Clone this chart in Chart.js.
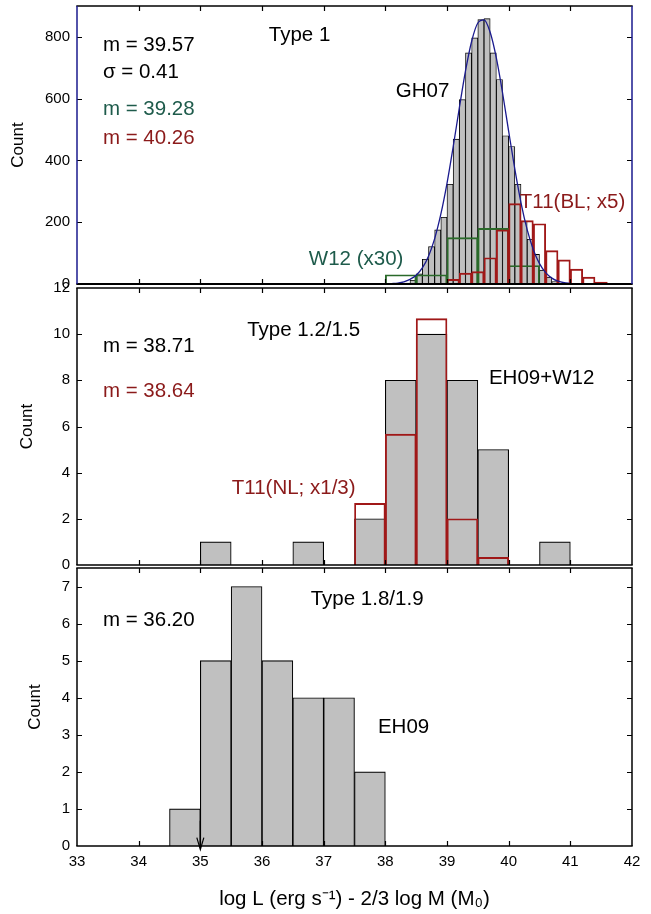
<!DOCTYPE html>
<html><head><meta charset="utf-8">
<script src="https://cdn.jsdelivr.net/npm/chart.js@4/dist/chart.umd.min.js"></script>
<style>
html,body{margin:0;padding:0;background:#fff;}
#wrap{position:relative;width:651px;height:914px;overflow:hidden;}
#wrap canvas{position:absolute;left:0;top:0;}
</style></head><body>
<div id="wrap">
<canvas id="c1" width="651" height="914"></canvas>
<canvas id="c2" width="651" height="914"></canvas>
<canvas id="c3" width="651" height="914"></canvas>
</div>
<script>
// ---------------- DATA ----------------
const xTickValues = [33, 34, 35, 36, 37, 38, 39, 40, 41, 42];

// Panel 1 : Type 1
const gh07BinStart = [38.3, 38.4, 38.5, 38.6, 38.7, 38.8, 38.9, 39.0, 39.1, 39.2, 39.3, 39.4, 39.5,
                      39.6, 39.7, 39.8, 39.9, 40.0, 40.1, 40.2, 40.3, 40.4, 40.5, 40.6, 40.7];
const gh07Counts   = [3, 12, 33, 80, 121, 175, 216, 323, 469, 597, 748, 797, 856,
                      859, 748, 662, 480, 445, 323, 203, 145, 96, 45, 22, 8];
const gh07BinWidth = 0.1;
const w12BinStart  = [38.0, 38.5, 39.0, 39.5, 40.0];
const w12Counts    = [30, 30, 150, 180, 60];
const w12BinWidth  = 0.5;
const t11blBinStart = [39.0, 39.2, 39.4, 39.6, 39.8, 40.0, 40.2, 40.4, 40.6, 40.8, 41.0, 41.2, 41.4];
const t11blCounts   = [15, 35, 40, 85, 175, 260, 205, 195, 108, 78, 48, 22, 6];
const t11blBinWidth = 0.2;
const fitX = [38.1, 38.2, 38.3, 38.4, 38.5, 38.6, 38.7, 38.8, 38.9, 39.0, 39.1, 39.2, 39.3, 39.4, 39.5,
              39.6, 39.7, 39.8, 39.9, 40.0, 40.1, 40.2, 40.3, 40.4, 40.5, 40.6, 40.7, 40.8, 40.9, 41.0];
const fitY = [1, 3, 7, 15, 28, 52, 90, 147, 226, 326, 444, 570, 690, 786, 845,
              855, 815, 732, 620, 494, 372, 263, 176, 111, 66, 37, 19, 9, 4, 2];
const p1YTicks = [0, 200, 400, 600, 800];

// Panel 2 : Type 1.2/1.5
const eh09w12BinStart = [35.0, 36.5, 37.5, 38.0, 38.5, 39.0, 39.5, 40.5];
const eh09w12Counts   = [1, 1, 2, 8, 10, 8, 5, 1];
const t11nlBinStart   = [37.5, 38.0, 38.5, 39.0, 39.5];
const t11nlCounts     = [2.67, 5.67, 10.67, 2, 0.33];
const p2BinWidth = 0.5;
const p2YTicks = [0, 2, 4, 6, 8, 10, 12];

// Panel 3 : Type 1.8/1.9
const eh09BinStart = [34.5, 35.0, 35.5, 36.0, 36.5, 37.0, 37.5];
const eh09Counts   = [1, 5, 7, 5, 4, 4, 2];
const p3BinWidth = 0.5;
const p3YTicks = [0, 1, 2, 3, 4, 5, 6, 7];
const arrowX = 35.0, arrowFrom = 0.68, arrowTo = -0.1;

// ---------------- STYLE ----------------
const FONT = '"Liberation Sans", Arial, Helvetica, sans-serif';
const RED_TXT = '#8b1a1a', RED_LN = '#a01818';
const GRN_TXT = '#1e5b4b', GRN_LN = '#2a6a2a';
const BLUE = '#1a1a8e';
const GRAY = '#c0c0c0';
const TICK = 5;

Chart.defaults.font.family = FONT;
Chart.defaults.color = '#000';
Chart.defaults.animation = false;

function bins(starts, counts, width) {
  return starts.map((s, i) => ({x: s + width / 2, y: counts[i]}));
}

const decorPlugin = {
  id: 'decor',
  afterDatasetsDraw(chart, args, o) {
    const {ctx, chartArea: a} = chart;
    const xs = chart.scales.x, ys = chart.scales.y;
    ctx.save();
    ctx.lineWidth = 1.2;
    ctx.strokeStyle = '#000';
    ctx.beginPath();
    xTickValues.forEach(v => {
      if (v <= xs.min || v >= xs.max) return;
      const px = Math.round(xs.getPixelForValue(v)) + 0.5;
      ctx.moveTo(px, a.top); ctx.lineTo(px, a.top + TICK);
      ctx.moveTo(px, a.bottom); ctx.lineTo(px, a.bottom - TICK);
    });
    o.yTicks.forEach(v => {
      if (v <= ys.min || v >= ys.max) return;
      const py = Math.round(ys.getPixelForValue(v)) + 0.5;
      ctx.moveTo(a.left, py); ctx.lineTo(a.left + TICK, py);
      ctx.moveTo(a.right, py); ctx.lineTo(a.right - TICK, py);
    });
    ctx.stroke();
    const line = (x1, y1, x2, y2, c, w) => {
      ctx.beginPath(); ctx.strokeStyle = c; ctx.lineWidth = w;
      ctx.moveTo(x1, y1); ctx.lineTo(x2, y2); ctx.stroke();
    };
    line(a.left - 0.7, a.top, a.right + 0.7, a.top, o.topColor, 1.5);
    line(a.left - 0.7, a.bottom, a.right + 0.7, a.bottom, '#000', o.bottomWidth);
    line(a.left, a.top, a.left, a.bottom, o.sideColor, 1.5);
    line(a.right, a.top, a.right, a.bottom, o.sideColor, 1.5);
    if (o.arrow) {
      const px = xs.getPixelForValue(o.arrow.x);
      const y1 = ys.getPixelForValue(o.arrow.from), y2 = ys.getPixelForValue(o.arrow.to);
      ctx.beginPath(); ctx.strokeStyle = '#000'; ctx.lineWidth = 1.2;
      ctx.moveTo(px, y1); ctx.lineTo(px, y2);
      ctx.moveTo(px - 3.5, y2 - 12); ctx.lineTo(px, y2); ctx.lineTo(px + 3.5, y2 - 12);
      ctx.stroke();
    }
    ctx.font = '20.5px ' + FONT;
    ctx.textBaseline = 'middle';
    ctx.textAlign = 'left';
    o.labels.forEach(l => {
      ctx.fillStyle = l.color;
      ctx.fillText(l.text, xs.getPixelForValue(l.x), ys.getPixelForValue(l.y));
    });
    ctx.restore();
  }
};

function hiddenX() {
  return {type: 'linear', min: 33, max: 42, display: false, offset: false, grid: {offset: false}};
}

function makeChart(id, cfg) {
  const scales = {
    x: {
      type: 'linear', min: 33, max: 42, offset: false,
      display: cfg.showX,
      grid: {display: false, drawTicks: false, offset: false},
      border: {display: false},
      afterBuildTicks: s => { s.ticks = xTickValues.map(v => ({value: v})); },
      ticks: {font: {size: 15}, padding: 7, maxRotation: 0, autoSkip: false},
      title: {display: cfg.showX, text: 'log L (erg s\u207B\u00B9) - 2/3 log M (M\u2080)',
              font: {size: 20.5}, padding: {top: 0, bottom: 2}},
      afterFit: s => { s.height = cfg.showX ? 68 : 0; s.paddingLeft = 0; s.paddingRight = 0; }
    },
    y: {
      type: 'linear', min: 0, max: cfg.yMax,
      grid: {display: false, drawTicks: false},
      border: {display: false},
      afterBuildTicks: s => { s.ticks = cfg.yTicks.map(v => ({value: v})); },
      ticks: {font: {size: 15}, padding: 7},
      title: {display: true, text: 'Count', font: {size: 17}, padding: {top: cfg.countPad, bottom: 0}},
      afterFit: s => { s.width = 77; s.paddingTop = 0; s.paddingBottom = 0; s.paddingLeft = 0; s.paddingRight = 0; }
    }
  };
  (cfg.extraAxes || []).forEach(k => { scales[k] = hiddenX(); });
  return new Chart(document.getElementById(id), {
    type: 'bar',
    data: {datasets: cfg.datasets},
    options: {
      responsive: false,
      animation: false,
      layout: {padding: {left: 0, right: 19, top: cfg.top, bottom: cfg.bottom}},
      plugins: {legend: {display: false}, tooltip: {enabled: false}, decor: cfg.decor},
      scales
    },
    plugins: [decorPlugin]
  });
}

const grayBar = (data, axis, bw) => ({type: 'bar', data, xAxisID: axis, yAxisID: 'y',
  backgroundColor: GRAY, borderColor: '#000', borderWidth: bw, barPercentage: 1, categoryPercentage: 1,
  grouped: false, order: 3});
const outlineBar = (data, axis, color, order) => ({type: 'bar', data, xAxisID: axis, yAxisID: 'y',
  backgroundColor: 'rgba(0,0,0,0)', borderColor: color, borderWidth: 1.2, barPercentage: 1, categoryPercentage: 1,
  grouped: false, order});

// Panel 1
makeChart('c1', {
  top: 6, bottom: 630, yMax: 900, yTicks: p1YTicks, showX: false, countPad: 8,
  extraAxes: ['xg', 'xw', 'xt'],
  datasets: [
    {type: 'line', data: fitX.map((x, i) => ({x, y: fitY[i]})), xAxisID: 'x', yAxisID: 'y',
     borderColor: BLUE, borderWidth: 1.3, pointRadius: 0, cubicInterpolationMode: 'monotone', fill: false, order: 0},
    outlineBar(bins(t11blBinStart, t11blCounts, t11blBinWidth), 'xt', RED_LN, 1),
    outlineBar(bins(w12BinStart, w12Counts, w12BinWidth), 'xw', GRN_LN, 2),
    grayBar(bins(gh07BinStart, gh07Counts, gh07BinWidth), 'xg', 0.9)
  ],
  decor: {
    yTicks: p1YTicks, topColor: '#000', sideColor: BLUE, bottomWidth: 2,
    labels: [
      {text: 'm = 39.57', x: 33.42, y: 772, color: '#000'},
      {text: '\u03C3 = 0.41', x: 33.42, y: 684, color: '#000'},
      {text: 'm = 39.28', x: 33.42, y: 564, color: GRN_TXT},
      {text: 'm = 40.26', x: 33.42, y: 470, color: RED_TXT},
      {text: 'Type 1', x: 36.11, y: 804, color: '#000'},
      {text: 'GH07', x: 38.17, y: 623, color: '#000'},
      {text: 'T11(BL; x5)', x: 40.18, y: 263, color: RED_TXT},
      {text: 'W12 (x30)', x: 36.76, y: 81, color: GRN_TXT}
    ]
  }
});

// Panel 2
makeChart('c2', {
  top: 288, bottom: 349, yMax: 12, yTicks: p2YTicks, showX: false, countPad: 17,
  extraAxes: ['xg', 'xt'],
  datasets: [
    outlineBar(bins(t11nlBinStart, t11nlCounts, p2BinWidth), 'xt', RED_LN, 1),
    grayBar(bins(eh09w12BinStart, eh09w12Counts, p2BinWidth), 'xg', 1.1)
  ],
  decor: {
    yTicks: p2YTicks, topColor: '#000', sideColor: '#000', bottomWidth: 1.5,
    labels: [
      {text: 'Type 1.2/1.5', x: 35.76, y: 10.16, color: '#000'},
      {text: 'm = 38.71', x: 33.42, y: 9.49, color: '#000'},
      {text: 'm = 38.64', x: 33.42, y: 7.52, color: RED_TXT},
      {text: 'EH09+W12', x: 39.68, y: 8.09, color: '#000'},
      {text: 'T11(NL; x1/3)', x: 35.51, y: 3.33, color: RED_TXT}
    ]
  }
});

// Panel 3
makeChart('c3', {
  top: 568, bottom: 0, yMax: 7.5, yTicks: p3YTicks, showX: true, countPad: 25,
  extraAxes: ['xg'],
  datasets: [
    grayBar(bins(eh09BinStart, eh09Counts, p3BinWidth), 'xg', 1.1)
  ],
  decor: {
    yTicks: p3YTicks, topColor: '#000', sideColor: '#000', bottomWidth: 1.5,
    arrow: {x: arrowX, from: arrowFrom, to: arrowTo},
    labels: [
      {text: 'Type 1.8/1.9', x: 36.79, y: 6.65, color: '#000'},
      {text: 'm = 36.20', x: 33.42, y: 6.08, color: '#000'},
      {text: 'EH09', x: 37.88, y: 3.2, color: '#000'}
    ]
  }
});
</script>
</body></html>
